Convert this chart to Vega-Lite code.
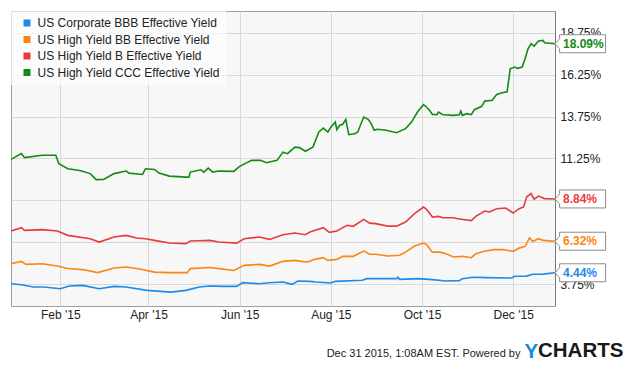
{
"$schema": "https://vega.github.io/schema/vega-lite/v6.json",
"width": 544, "height": 295,
"autosize": "none",
"padding": {"left": 11, "top": 11, "right": 80, "bottom": 60},
"background": "white",
"title": {"text": "CHARTS", "orient": "top", "anchor": "start", "frame": "group", "baseline": "alphabetic", "offset": 0, "dx": 527, "dy": 366, "fontSize": 20.5, "fontWeight": "bold", "color": "#1a1a1a", "font": "Liberation Sans"},
"data": {"values": [
{"date":"2014-12-30","series":"BBB","value":0.0379},{"date":"2015-01-06","series":"BBB","value":0.0373},{"date":"2015-01-14","series":"BBB","value":0.0359},{"date":"2015-01-21","series":"BBB","value":0.0359},{"date":"2015-02-01","series":"BBB","value":0.0349},{"date":"2015-02-07","series":"BBB","value":0.0365},{"date":"2015-02-16","series":"BBB","value":0.0369},{"date":"2015-02-27","series":"BBB","value":0.0349},{"date":"2015-03-09","series":"BBB","value":0.0363},{"date":"2015-03-17","series":"BBB","value":0.0359},{"date":"2015-03-31","series":"BBB","value":0.0339},{"date":"2015-04-16","series":"BBB","value":0.0329},{"date":"2015-04-26","series":"BBB","value":0.0339},{"date":"2015-05-05","series":"BBB","value":0.0359},{"date":"2015-05-12","series":"BBB","value":0.0365},{"date":"2015-05-21","series":"BBB","value":0.0363},{"date":"2015-05-30","series":"BBB","value":0.0363},{"date":"2015-06-03","series":"BBB","value":0.0385},{"date":"2015-06-14","series":"BBB","value":0.0379},{"date":"2015-06-21","series":"BBB","value":0.0385},{"date":"2015-06-30","series":"BBB","value":0.0389},{"date":"2015-07-06","series":"BBB","value":0.0375},{"date":"2015-07-10","series":"BBB","value":0.0395},{"date":"2015-07-18","series":"BBB","value":0.0393},{"date":"2015-07-22","series":"BBB","value":0.0389},{"date":"2015-08-01","series":"BBB","value":0.0383},{"date":"2015-08-04","series":"BBB","value":0.0393},{"date":"2015-08-22","series":"BBB","value":0.0399},{"date":"2015-08-25","series":"BBB","value":0.0409},{"date":"2015-09-14","series":"BBB","value":0.0409},{"date":"2015-09-15","series":"BBB","value":0.0417},{"date":"2015-09-16","series":"BBB","value":0.0405},{"date":"2015-09-29","series":"BBB","value":0.0409},{"date":"2015-10-08","series":"BBB","value":0.0403},{"date":"2015-10-17","series":"BBB","value":0.0395},{"date":"2015-10-26","series":"BBB","value":0.0397},{"date":"2015-10-28","series":"BBB","value":0.0409},{"date":"2015-11-04","series":"BBB","value":0.0417},{"date":"2015-11-13","series":"BBB","value":0.0415},{"date":"2015-11-30","series":"BBB","value":0.0413},{"date":"2015-12-02","series":"BBB","value":0.0423},{"date":"2015-12-10","series":"BBB","value":0.0424},{"date":"2015-12-14","series":"BBB","value":0.0435},{"date":"2015-12-21","series":"BBB","value":0.0436},{"date":"2015-12-29","series":"BBB","value":0.0444},
{"date":"2014-12-30","series":"BB","value":0.0498},{"date":"2015-01-06","series":"BB","value":0.0512},{"date":"2015-01-09","series":"BB","value":0.0494},{"date":"2015-01-20","series":"BB","value":0.0498},{"date":"2015-01-30","series":"BB","value":0.0484},{"date":"2015-02-06","series":"BB","value":0.0469},{"date":"2015-02-16","series":"BB","value":0.0463},{"date":"2015-02-26","series":"BB","value":0.0445},{"date":"2015-03-09","series":"BB","value":0.0472},{"date":"2015-03-17","series":"BB","value":0.0478},{"date":"2015-03-26","series":"BB","value":0.0466},{"date":"2015-04-05","series":"BB","value":0.0448},{"date":"2015-04-15","series":"BB","value":0.0445},{"date":"2015-04-27","series":"BB","value":0.0445},{"date":"2015-04-29","series":"BB","value":0.0469},{"date":"2015-05-12","series":"BB","value":0.0475},{"date":"2015-05-18","series":"BB","value":0.0469},{"date":"2015-05-28","series":"BB","value":0.0458},{"date":"2015-06-04","series":"BB","value":0.0488},{"date":"2015-06-14","series":"BB","value":0.0494},{"date":"2015-06-21","series":"BB","value":0.0484},{"date":"2015-06-30","series":"BB","value":0.0512},{"date":"2015-07-08","series":"BB","value":0.0518},{"date":"2015-07-15","series":"BB","value":0.0508},{"date":"2015-07-18","series":"BB","value":0.0512},{"date":"2015-07-20","series":"BB","value":0.0522},{"date":"2015-07-27","series":"BB","value":0.0534},{"date":"2015-07-30","series":"BB","value":0.0518},{"date":"2015-08-05","series":"BB","value":0.0524},{"date":"2015-08-09","series":"BB","value":0.0542},{"date":"2015-08-16","series":"BB","value":0.0542},{"date":"2015-08-23","series":"BB","value":0.0573},{"date":"2015-08-27","series":"BB","value":0.0554},{"date":"2015-08-31","series":"BB","value":0.0554},{"date":"2015-09-08","series":"BB","value":0.0544},{"date":"2015-09-16","series":"BB","value":0.0548},{"date":"2015-09-20","series":"BB","value":0.0567},{"date":"2015-09-26","series":"BB","value":0.0603},{"date":"2015-10-02","series":"BB","value":0.0621},{"date":"2015-10-04","series":"BB","value":0.0612},{"date":"2015-10-08","series":"BB","value":0.0567},{"date":"2015-10-13","series":"BB","value":0.0567},{"date":"2015-10-17","series":"BB","value":0.0558},{"date":"2015-10-22","series":"BB","value":0.0538},{"date":"2015-10-28","series":"BB","value":0.0542},{"date":"2015-11-03","series":"BB","value":0.0534},{"date":"2015-11-06","series":"BB","value":0.0558},{"date":"2015-11-12","series":"BB","value":0.0572},{"date":"2015-11-18","series":"BB","value":0.0582},{"date":"2015-11-24","series":"BB","value":0.0582},{"date":"2015-12-01","series":"BB","value":0.0572},{"date":"2015-12-05","series":"BB","value":0.0591},{"date":"2015-12-09","series":"BB","value":0.0601},{"date":"2015-12-12","series":"BB","value":0.0653},{"date":"2015-12-14","series":"BB","value":0.0631},{"date":"2015-12-18","series":"BB","value":0.0647},{"date":"2015-12-21","series":"BB","value":0.0637},{"date":"2015-12-29","series":"BB","value":0.0632},
{"date":"2014-12-30","series":"B","value":0.0693},{"date":"2015-01-06","series":"B","value":0.0713},{"date":"2015-01-08","series":"B","value":0.0697},{"date":"2015-01-20","series":"B","value":0.0701},{"date":"2015-01-30","series":"B","value":0.0693},{"date":"2015-02-06","series":"B","value":0.0667},{"date":"2015-02-21","series":"B","value":0.0647},{"date":"2015-02-27","series":"B","value":0.0627},{"date":"2015-03-09","series":"B","value":0.0657},{"date":"2015-03-17","series":"B","value":0.0667},{"date":"2015-03-24","series":"B","value":0.0651},{"date":"2015-03-30","series":"B","value":0.0647},{"date":"2015-04-05","series":"B","value":0.0637},{"date":"2015-04-15","series":"B","value":0.0621},{"date":"2015-04-26","series":"B","value":0.0618},{"date":"2015-04-29","series":"B","value":0.0633},{"date":"2015-05-05","series":"B","value":0.0635},{"date":"2015-05-12","series":"B","value":0.0637},{"date":"2015-05-18","series":"B","value":0.0627},{"date":"2015-05-30","series":"B","value":0.0621},{"date":"2015-06-04","series":"B","value":0.0647},{"date":"2015-06-14","series":"B","value":0.0657},{"date":"2015-06-21","series":"B","value":0.0643},{"date":"2015-06-30","series":"B","value":0.0671},{"date":"2015-07-08","series":"B","value":0.0681},{"date":"2015-07-15","series":"B","value":0.0671},{"date":"2015-07-18","series":"B","value":0.0687},{"date":"2015-07-20","series":"B","value":0.0693},{"date":"2015-07-27","series":"B","value":0.0713},{"date":"2015-07-31","series":"B","value":0.0685},{"date":"2015-08-05","series":"B","value":0.0693},{"date":"2015-08-09","series":"B","value":0.0713},{"date":"2015-08-12","series":"B","value":0.0727},{"date":"2015-08-16","series":"B","value":0.0721},{"date":"2015-08-23","series":"B","value":0.0762},{"date":"2015-08-27","series":"B","value":0.0740},{"date":"2015-08-31","series":"B","value":0.0737},{"date":"2015-09-08","series":"B","value":0.0722},{"date":"2015-09-14","series":"B","value":0.0722},{"date":"2015-09-20","series":"B","value":0.0746},{"date":"2015-09-26","series":"B","value":0.0796},{"date":"2015-10-02","series":"B","value":0.0836},{"date":"2015-10-04","series":"B","value":0.0822},{"date":"2015-10-08","series":"B","value":0.0776},{"date":"2015-10-12","series":"B","value":0.0780},{"date":"2015-10-15","series":"B","value":0.0772},{"date":"2015-10-22","series":"B","value":0.0772},{"date":"2015-10-25","series":"B","value":0.0766},{"date":"2015-11-03","series":"B","value":0.0755},{"date":"2015-11-06","series":"B","value":0.0780},{"date":"2015-11-12","series":"B","value":0.0812},{"date":"2015-11-15","series":"B","value":0.0806},{"date":"2015-11-20","series":"B","value":0.0826},{"date":"2015-11-26","series":"B","value":0.0830},{"date":"2015-12-01","series":"B","value":0.0800},{"date":"2015-12-05","series":"B","value":0.0826},{"date":"2015-12-08","series":"B","value":0.0836},{"date":"2015-12-10","series":"B","value":0.0895},{"date":"2015-12-13","series":"B","value":0.0916},{"date":"2015-12-15","series":"B","value":0.0882},{"date":"2015-12-18","series":"B","value":0.0901},{"date":"2015-12-22","series":"B","value":0.0886},{"date":"2015-12-29","series":"B","value":0.0884},
{"date":"2014-12-30","series":"CCC","value":0.1120},{"date":"2015-01-06","series":"CCC","value":0.1154},{"date":"2015-01-08","series":"CCC","value":0.1130},{"date":"2015-01-20","series":"CCC","value":0.1144},{"date":"2015-01-29","series":"CCC","value":0.1144},{"date":"2015-01-31","series":"CCC","value":0.1094},{"date":"2015-02-06","series":"CCC","value":0.1064},{"date":"2015-02-14","series":"CCC","value":0.1054},{"date":"2015-02-21","series":"CCC","value":0.1035},{"date":"2015-02-25","series":"CCC","value":0.0999},{"date":"2015-03-02","series":"CCC","value":0.1000},{"date":"2015-03-09","series":"CCC","value":0.1035},{"date":"2015-03-17","series":"CCC","value":0.1050},{"date":"2015-03-19","series":"CCC","value":0.1038},{"date":"2015-03-28","series":"CCC","value":0.1030},{"date":"2015-03-30","series":"CCC","value":0.1064},{"date":"2015-04-05","series":"CCC","value":0.1060},{"date":"2015-04-08","series":"CCC","value":0.1038},{"date":"2015-04-15","series":"CCC","value":0.1020},{"date":"2015-04-26","series":"CCC","value":0.1014},{"date":"2015-04-28","series":"CCC","value":0.1014},{"date":"2015-04-29","series":"CCC","value":0.1044},{"date":"2015-05-06","series":"CCC","value":0.1058},{"date":"2015-05-08","series":"CCC","value":0.1044},{"date":"2015-05-11","series":"CCC","value":0.1068},{"date":"2015-05-14","series":"CCC","value":0.1044},{"date":"2015-05-18","series":"CCC","value":0.1050},{"date":"2015-05-28","series":"CCC","value":0.1048},{"date":"2015-06-01","series":"CCC","value":0.1078},{"date":"2015-06-09","series":"CCC","value":0.1114},{"date":"2015-06-15","series":"CCC","value":0.1114},{"date":"2015-06-19","series":"CCC","value":0.1100},{"date":"2015-06-26","series":"CCC","value":0.1114},{"date":"2015-06-30","series":"CCC","value":0.1163},{"date":"2015-07-03","series":"CCC","value":0.1154},{"date":"2015-07-08","series":"CCC","value":0.1193},{"date":"2015-07-11","series":"CCC","value":0.1190},{"date":"2015-07-15","series":"CCC","value":0.1168},{"date":"2015-07-20","series":"CCC","value":0.1193},{"date":"2015-07-24","series":"CCC","value":0.1283},{"date":"2015-07-27","series":"CCC","value":0.1306},{"date":"2015-07-30","series":"CCC","value":0.1283},{"date":"2015-08-01","series":"CCC","value":0.1312},{"date":"2015-08-04","series":"CCC","value":0.1342},{"date":"2015-08-05","series":"CCC","value":0.1297},{"date":"2015-08-07","series":"CCC","value":0.1323},{"date":"2015-08-09","series":"CCC","value":0.1329},{"date":"2015-08-11","series":"CCC","value":0.1358},{"date":"2015-08-13","series":"CCC","value":0.1267},{"date":"2015-08-17","series":"CCC","value":0.1273},{"date":"2015-08-19","series":"CCC","value":0.1283},{"date":"2015-08-23","series":"CCC","value":0.1372},{"date":"2015-08-26","series":"CCC","value":0.1358},{"date":"2015-08-28","series":"CCC","value":0.1333},{"date":"2015-08-30","series":"CCC","value":0.1293},{"date":"2015-09-01","series":"CCC","value":0.1299},{"date":"2015-09-07","series":"CCC","value":0.1293},{"date":"2015-09-14","series":"CCC","value":0.1279},{"date":"2015-09-20","series":"CCC","value":0.1303},{"date":"2015-09-24","series":"CCC","value":0.1342},{"date":"2015-09-28","series":"CCC","value":0.1402},{"date":"2015-10-02","series":"CCC","value":0.1446},{"date":"2015-10-04","series":"CCC","value":0.1432},{"date":"2015-10-06","series":"CCC","value":0.1412},{"date":"2015-10-08","series":"CCC","value":0.1388},{"date":"2015-10-11","series":"CCC","value":0.1386},{"date":"2015-10-12","series":"CCC","value":0.1402},{"date":"2015-10-15","series":"CCC","value":0.1386},{"date":"2015-10-22","series":"CCC","value":0.1382},{"date":"2015-10-26","series":"CCC","value":0.1386},{"date":"2015-10-27","series":"CCC","value":0.1408},{"date":"2015-10-28","series":"CCC","value":0.1382},{"date":"2015-10-31","series":"CCC","value":0.1392},{"date":"2015-11-03","series":"CCC","value":0.1386},{"date":"2015-11-05","series":"CCC","value":0.1416},{"date":"2015-11-10","series":"CCC","value":0.1436},{"date":"2015-11-12","series":"CCC","value":0.1467},{"date":"2015-11-17","series":"CCC","value":0.1472},{"date":"2015-11-20","series":"CCC","value":0.1507},{"date":"2015-11-23","series":"CCC","value":0.1515},{"date":"2015-11-27","series":"CCC","value":0.1522},{"date":"2015-11-29","series":"CCC","value":0.1660},{"date":"2015-12-02","series":"CCC","value":0.1670},{"date":"2015-12-04","series":"CCC","value":0.1662},{"date":"2015-12-07","series":"CCC","value":0.1670},{"date":"2015-12-09","series":"CCC","value":0.1720},{"date":"2015-12-11","series":"CCC","value":0.1780},{"date":"2015-12-13","series":"CCC","value":0.1809},{"date":"2015-12-15","series":"CCC","value":0.1795},{"date":"2015-12-18","series":"CCC","value":0.1825},{"date":"2015-12-21","series":"CCC","value":0.1829},{"date":"2015-12-22","series":"CCC","value":0.1815},{"date":"2015-12-29","series":"CCC","value":0.1809}
]},
"encoding": {
  "x": {"field": "date", "type": "temporal",
    "scale": {"type": "utc", "domain": [{"year": 2014, "month": 12, "date": 30, "utc": true}, {"year": 2015, "month": 12, "date": 29, "utc": true}]},
    "axis": {"values": [{"year": 2015, "month": 2, "date": 1, "utc": true}, {"year": 2015, "month": 4, "date": 1, "utc": true}, {"year": 2015, "month": 6, "date": 1, "utc": true}, {"year": 2015, "month": 8, "date": 1, "utc": true}, {"year": 2015, "month": 10, "date": 1, "utc": true}, {"year": 2015, "month": 12, "date": 1, "utc": true}],
      "format": "%b '%y", "grid": true, "ticks": false, "domain": false, "labelPadding": 3, "labelFlush": false,
      "title": "Dec 31 2015, 1:08AM EST. Powered by", "titleX": 509, "titleY": 50, "titleAlign": "right", "titleAnchor": null, "titleBaseline": "alphabetic", "titleFontSize": 11, "titleFontWeight": "normal", "titleColor": "#222222"}},
  "y": {"field": "value", "type": "quantitative",
    "scale": {"domain": [0.0246, 0.2004], "nice": false, "zero": false},
    "axis": {"orient": "right", "values": [0.0375, 0.0625, 0.0875, 0.1125, 0.1375, 0.1625, 0.1875], "format": ".2%",
      "labelExpr": "(datum.value > 0.06 && datum.value < 0.09) ? '' : datum.label",
      "grid": true, "ticks": false, "domain": true, "domainColor": "#777777", "labelPadding": 5, "labelBaseline": "middle", "labelOverlap": false,
      "title": "Y", "titleAngle": 0, "titleX": -31, "titleY": 346, "titleAlign": "left", "titleAnchor": null, "titleBaseline": "alphabetic", "titleFontSize": 20.5, "titleFontWeight": "bold", "titleColor": "#1a8ad8"}}
},
"layer": [
  {"mark": {"type": "line", "strokeWidth": 1.6},
   "encoding": {"color": {"field": "series", "type": "nominal",
     "scale": {"domain": ["BBB", "BB", "B", "CCC"], "range": ["#1f8ae6", "#fb8514", "#e63c3c", "#148a14"]},
     "legend": {"orient": "top-left", "offset": 0, "title": null, "padding": 6, "fillColor": "rgba(255,255,255,0.65)", "symbolType": "square", "symbolSize": 49, "symbolOffset": 4, "labelOffset": 4.6, "rowPadding": 4.5, "labelFontSize": 12, "labelColor": "#222222", "labelLimit": 400,
       "labelExpr": "datum.label == 'BBB' ? 'US Corporate BBB Effective Yield' : datum.label == 'BB' ? 'US High Yield BB Effective Yield' : datum.label == 'B' ? 'US High Yield B Effective Yield' : 'US High Yield CCC Effective Yield'",
       "encode": {"symbols": {"update": {"fill": {"scale": "color", "field": "value"}, "stroke": {"value": "transparent"}, "strokeWidth": {"value": 0}, "opacity": {"value": 1}}}}}}}},
  {"transform": [{"filter": "datum.date >= utc(2015, 11, 29)"}],
   "mark": {"type": "point", "shape": "M0,0L0.46,-0.5L0.46,-0.9L5.06,-0.9L5.06,0.9L0.46,0.9L0.46,0.5Z", "size": 400, "filled": true, "fill": "white", "stroke": "#8c8c8c", "strokeWidth": 1, "opacity": 1}},
  {"transform": [{"filter": "datum.date >= utc(2015, 11, 29)"}],
   "mark": {"type": "text", "dx": 8, "align": "left", "baseline": "middle", "fontWeight": "bold", "fontSize": 12},
   "encoding": {"text": {"field": "value", "type": "quantitative", "format": ".2%"}, "color": {"field": "series", "type": "nominal", "legend": null}}}
],
"config": {
  "font": "Liberation Sans",
  "view": {"fill": "#f7f7f7", "stroke": "#a0a0a0", "strokeWidth": 1},
  "axis": {"gridColor": "#d9d9d9", "gridWidth": 1, "labelFontSize": 12, "labelColor": "#222222", "labelFont": "Liberation Sans", "titleFont": "Liberation Sans"},
  "legend": {"labelFont": "Liberation Sans"}
}
}
